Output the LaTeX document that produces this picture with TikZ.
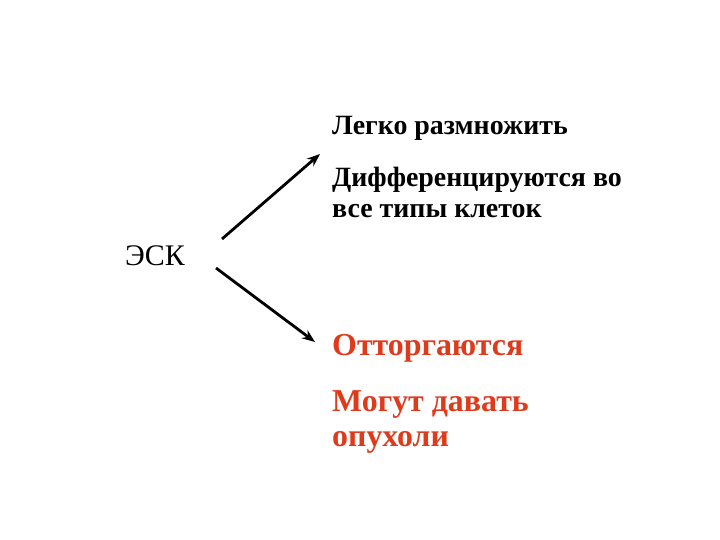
\documentclass[tikz,border=0pt]{standalone}
\usepackage{fontspec}
\setmainfont{Liberation Serif}
\usetikzlibrary{arrows.meta}
\definecolor{rejectred}{RGB}{224,58,28}
\begin{document}
\begin{tikzpicture}[>=latex,line join=bevel,
  prop/.style={anchor=base west,inner sep=0pt,align=left,font=\fontsize{28}{32}\selectfont\bfseries},
  bigprop/.style={prop,text=rejectred,font=\fontsize{32}{36}\selectfont\bfseries},
  branch/.style={->,line width=2.8bp,>={Stealth[length=13bp,width=10bp]}}]
        %%
        \useasboundingbox (0bp,0bp) rectangle (720bp,540bp);
        \node (esk) at (125bp,274bp) [prop,font=\fontsize{30}{33}\selectfont] {ЭСК};
          \node (prop_1) at (332bp,405bp) [prop] {Легко размножить};
          \node (prop_2) at (332bp,322bp) [prop] {Дифференцируются во\\все типы клеток};
          \node (prop_3) at (332bp,184bp) [bigprop] {Отторгаются};
          \node (prop_4) at (332bp,93bp) [bigprop] {Могут давать\\опухоли};
          \coordinate (up_from) at (222bp,301bp);
          \coordinate (up_to) at (320bp,386bp);
          \coordinate (down_from) at (216bp,272bp);
          \coordinate (down_to) at (315bp,198bp);
          \draw [branch] (up_from) -- (up_to);
          \draw [branch] (down_from) -- (down_to);
        %
        \end{tikzpicture}
\end{document}
